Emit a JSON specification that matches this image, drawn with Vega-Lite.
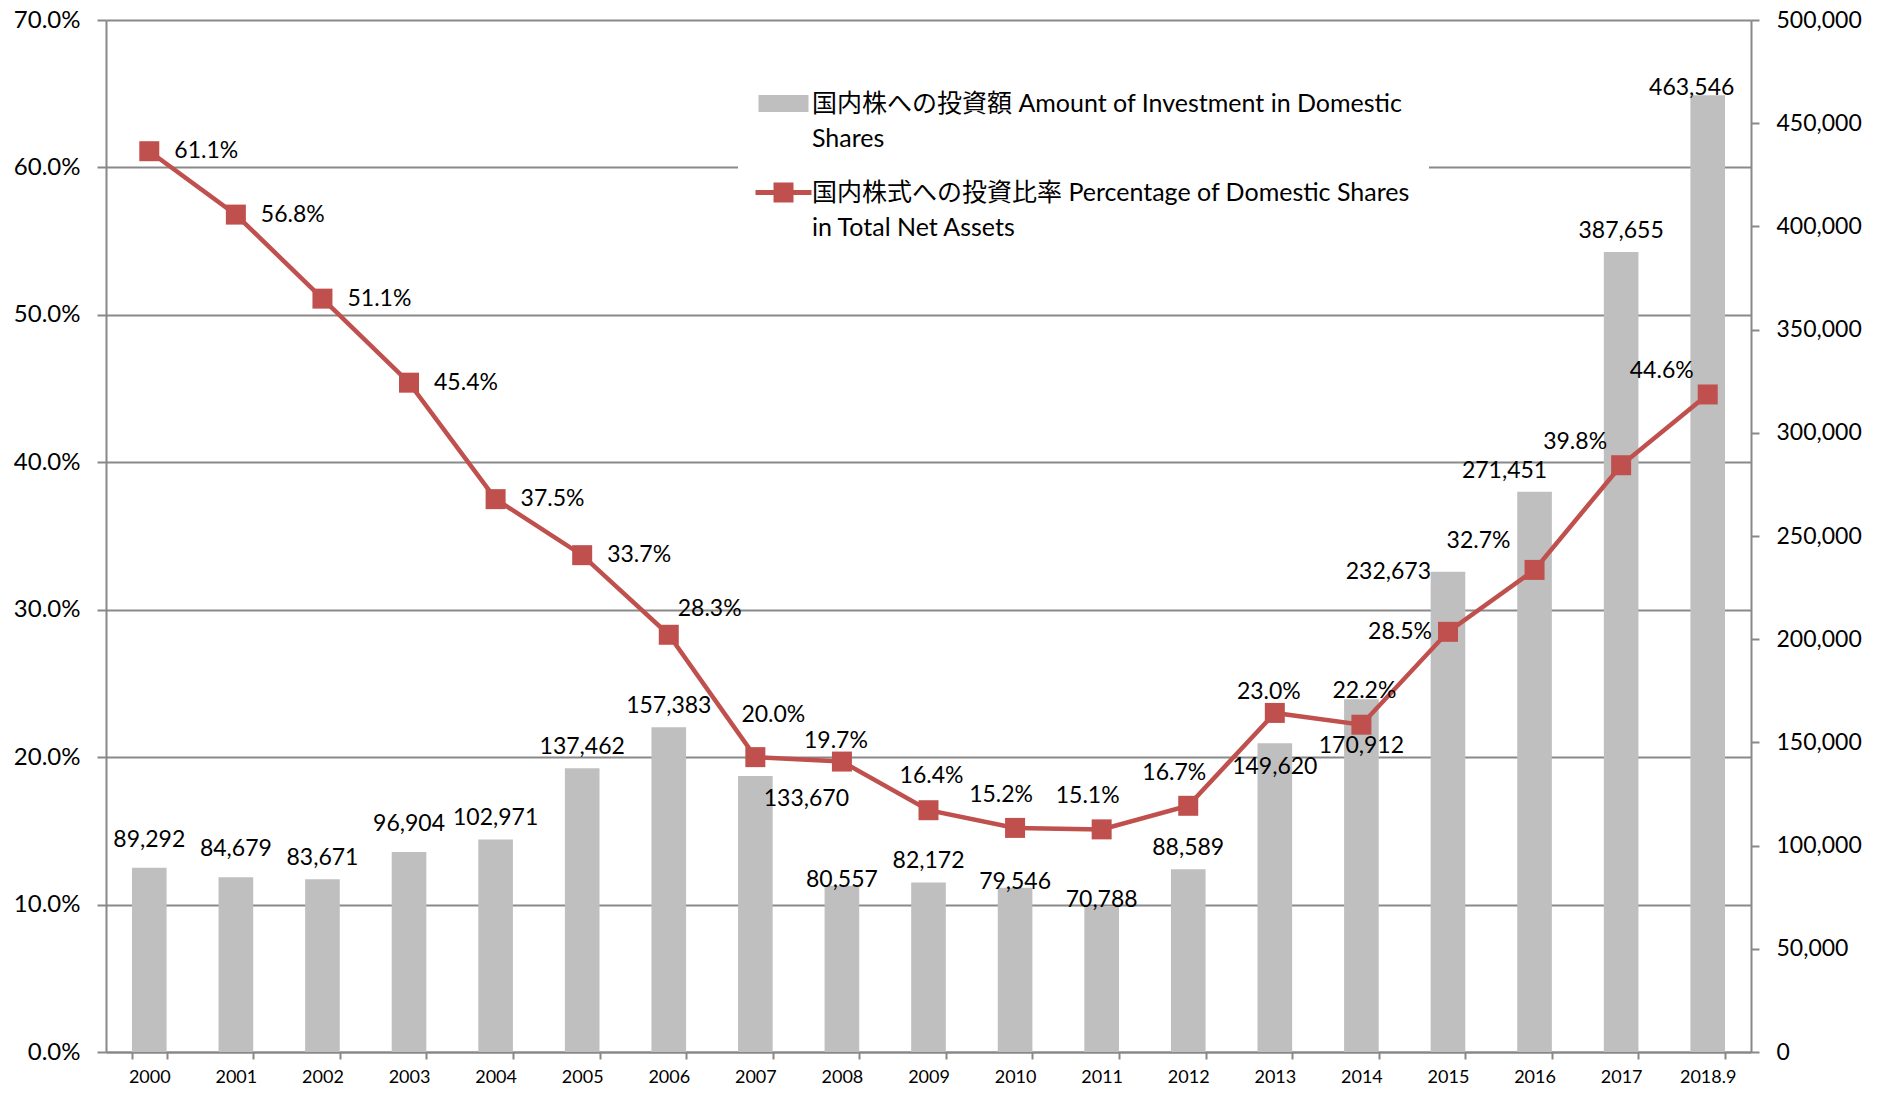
{
  "$schema": "https://vega.github.io/schema/vega-lite/v6.json",
  "width": 1645,
  "height": 1032,
  "autosize": {"type": "none"},
  "padding": {"left": 106, "top": 20, "right": 130, "bottom": 41},
  "background": "white",
  "config": {
    "font": "Lato, 'Noto Sans CJK JP', sans-serif",
    "view": {"stroke": null},
    "text": {"fontSize": 23, "color": "#000000", "baseline": "middle"}
  },
  "data": {
    "values": [
      {"year": "2000", "amount": 89292, "pct": 0.611},
      {"year": "2001", "amount": 84679, "pct": 0.568},
      {"year": "2002", "amount": 83671, "pct": 0.511},
      {"year": "2003", "amount": 96904, "pct": 0.454},
      {"year": "2004", "amount": 102971, "pct": 0.375},
      {"year": "2005", "amount": 137462, "pct": 0.337},
      {"year": "2006", "amount": 157383, "pct": 0.283},
      {"year": "2007", "amount": 133670, "pct": 0.200},
      {"year": "2008", "amount": 80557, "pct": 0.197},
      {"year": "2009", "amount": 82172, "pct": 0.164},
      {"year": "2010", "amount": 79546, "pct": 0.152},
      {"year": "2011", "amount": 70788, "pct": 0.151},
      {"year": "2012", "amount": 88589, "pct": 0.167},
      {"year": "2013", "amount": 149620, "pct": 0.230},
      {"year": "2014", "amount": 170912, "pct": 0.222},
      {"year": "2015", "amount": 232673, "pct": 0.285},
      {"year": "2016", "amount": 271451, "pct": 0.327},
      {"year": "2017", "amount": 387655, "pct": 0.398},
      {"year": "2018.9", "amount": 463546, "pct": 0.446}
    ]
  },
  "encoding": {
    "x": {
      "field": "year", "type": "ordinal", "sort": null,
      "scale": {"paddingInner": 0.6, "paddingOuter": 0.3},
      "axis": {
        "title": null, "labelAngle": 0, "tickBand": "extent",
        "domainColor": "#888888", "domainWidth": 2,
        "tickColor": "#888888", "tickWidth": 2, "tickSize": 7,
        "labelFontSize": 18, "labelPadding": 9, "labelColor": "#000000"
      }
    }
  },
  "layer": [
    {
      "encoding": {
        "y": {
          "field": "amount", "type": "quantitative",
          "scale": {"domain": [0, 500000], "nice": false},
          "axis": {
            "orient": "right", "title": null, "grid": false, "format": ",.0f",
            "values": [0, 50000, 100000, 150000, 200000, 250000, 300000, 350000, 400000, 450000, 500000],
            "domainColor": "#888888", "domainWidth": 2,
            "tickColor": "#888888", "tickWidth": 2, "tickSize": 8,
            "labelFontSize": 23, "labelPadding": 17, "labelColor": "#000000"
          }
        }
      },
      "layer": [
        {
          "mark": {"type": "bar", "color": "#bfbfbf"},
          "encoding": {
            "color": {
              "datum": "国内株への投資額 Amount of Investment in Domestic",
              "type": "nominal",
              "scale": {"domain": ["国内株への投資額 Amount of Investment in Domestic", "Shares"], "range": ["#bfbfbf", "transparent"]},
              "legend": {
                "title": null, "orient": "none", "legendX": 632, "legendY": 53,
                "padding": 18, "fillColor": "white", "strokeColor": "white",
                "symbolType": "M-1,-0.85H4V0.85H-1Z", "symbolSize": 400, "symbolStrokeWidth": 0,
                "labelFontSize": 25, "labelLimit": 900, "labelOffset": 31, "labelColor": "#000000",
                "labelBaseline": "middle", "rowPadding": 9
              }
            }
          }
        },
        {
          "transform": [{"filter": {"field": "year", "oneOf": ["2000", "2001", "2003"]}}],
          "mark": {"type": "text", "dy": -28},
          "encoding": {"text": {"field": "amount", "format": ",.0f"}}
        },
        {
          "transform": [{"filter": {"field": "year", "oneOf": ["2002", "2004", "2005", "2006", "2009", "2012", "2017"]}}],
          "mark": {"type": "text", "dy": -21},
          "encoding": {"text": {"field": "amount", "format": ",.0f"}}
        },
        {
          "transform": [{"filter": {"field": "year", "oneOf": ["2008", "2010", "2011"]}}],
          "mark": {"type": "text", "dy": -6},
          "encoding": {"text": {"field": "amount", "format": ",.0f"}}
        },
        {
          "transform": [{"filter": {"field": "year", "equal": "2007"}}],
          "mark": {"type": "text", "dx": 51, "dy": 23},
          "encoding": {"text": {"field": "amount", "format": ",.0f"}}
        },
        {
          "transform": [{"filter": {"field": "year", "equal": "2013"}}],
          "mark": {"type": "text", "dy": 24},
          "encoding": {"text": {"field": "amount", "format": ",.0f"}}
        },
        {
          "transform": [{"filter": {"field": "year", "equal": "2014"}}],
          "mark": {"type": "text", "dy": 47},
          "encoding": {"text": {"field": "amount", "format": ",.0f"}}
        },
        {
          "transform": [{"filter": {"field": "year", "equal": "2015"}}],
          "mark": {"type": "text", "align": "right", "dx": -17, "dy": 0},
          "encoding": {"text": {"field": "amount", "format": ",.0f"}}
        },
        {
          "transform": [{"filter": {"field": "year", "equal": "2016"}}],
          "mark": {"type": "text", "dx": -30, "dy": -21},
          "encoding": {"text": {"field": "amount", "format": ",.0f"}}
        },
        {
          "transform": [{"filter": {"field": "year", "equal": "2018.9"}}],
          "mark": {"type": "text", "dx": -16, "dy": -7},
          "encoding": {"text": {"field": "amount", "format": ",.0f"}}
        }
      ]
    },
    {
      "encoding": {
        "y": {
          "field": "pct", "type": "quantitative",
          "scale": {"domain": [0, 0.7], "nice": false},
          "axis": {
            "orient": "left", "title": null, "grid": true, "format": ".1%",
            "values": [0, 0.1, 0.2, 0.3, 0.4, 0.5, 0.6, 0.7],
            "gridColor": "#898989", "gridWidth": 2,
            "domainColor": "#888888", "domainWidth": 2,
            "tickColor": "#888888", "tickWidth": 2, "tickSize": 9,
            "labelFontSize": 24, "labelPadding": 17, "labelColor": "#000000"
          }
        }
      },
      "layer": [
        {
          "mark": {"type": "line", "color": "#c0504d", "strokeWidth": 4.5},
          "encoding": {}
        },
        {
          "mark": {"type": "point", "shape": "square", "size": 400, "filled": true, "opacity": 1},
          "encoding": {
            "color": {
              "datum": "国内株式への投資比率 Percentage of Domestic Shares",
              "type": "nominal",
              "scale": {"domain": ["国内株式への投資比率 Percentage of Domestic Shares", "in Total Net Assets"], "range": ["#c0504d", "transparent"]},
              "legend": {
                "title": null, "orient": "none", "legendX": 632, "legendY": 142,
                "padding": 18, "fillColor": "white", "strokeColor": "white",
                "symbolType": "M-1.3,-0.25H4.3V0.25H-1.3Z M0.5,-1H2.5V1H0.5Z", "symbolSize": 400, "symbolStrokeWidth": 0,
                "labelFontSize": 25, "labelLimit": 900, "labelOffset": 31, "labelColor": "#000000",
                "labelBaseline": "middle", "rowPadding": 9
              }
            }
          }
        },
        {
          "transform": [{"filter": {"field": "year", "oneOf": ["2000", "2001", "2002", "2003", "2004", "2005"]}}],
          "mark": {"type": "text", "align": "left", "dx": 25, "dy": 0},
          "encoding": {"text": {"field": "pct", "format": ".1%"}}
        },
        {
          "transform": [{"filter": {"field": "year", "equal": "2006"}}],
          "mark": {"type": "text", "align": "left", "dx": 9, "dy": -26},
          "encoding": {"text": {"field": "pct", "format": ".1%"}}
        },
        {
          "transform": [{"filter": {"field": "year", "equal": "2007"}}],
          "mark": {"type": "text", "dx": 18, "dy": -42},
          "encoding": {"text": {"field": "pct", "format": ".1%"}}
        },
        {
          "transform": [{"filter": {"field": "year", "oneOf": ["2008", "2013"]}}],
          "mark": {"type": "text", "dx": -6, "dy": -21},
          "encoding": {"text": {"field": "pct", "format": ".1%"}}
        },
        {
          "transform": [{"filter": {"field": "year", "oneOf": ["2009", "2014"]}}],
          "mark": {"type": "text", "dx": 3, "dy": -34},
          "encoding": {"text": {"field": "pct", "format": ".1%"}}
        },
        {
          "transform": [{"filter": {"field": "year", "oneOf": ["2010", "2011", "2012"]}}],
          "mark": {"type": "text", "dx": -14, "dy": -33},
          "encoding": {"text": {"field": "pct", "format": ".1%"}}
        },
        {
          "transform": [{"filter": {"field": "year", "equal": "2015"}}],
          "mark": {"type": "text", "align": "right", "dx": -16, "dy": 0},
          "encoding": {"text": {"field": "pct", "format": ".1%"}}
        },
        {
          "transform": [{"filter": {"field": "year", "equal": "2016"}}],
          "mark": {"type": "text", "dx": -56, "dy": -29},
          "encoding": {"text": {"field": "pct", "format": ".1%"}}
        },
        {
          "transform": [{"filter": {"field": "year", "oneOf": ["2017", "2018.9"]}}],
          "mark": {"type": "text", "dx": -46, "dy": -23},
          "encoding": {"text": {"field": "pct", "format": ".1%"}}
        }
      ]
    }
  ],
  "resolve": {"scale": {"y": "independent", "color": "independent"}}
}
